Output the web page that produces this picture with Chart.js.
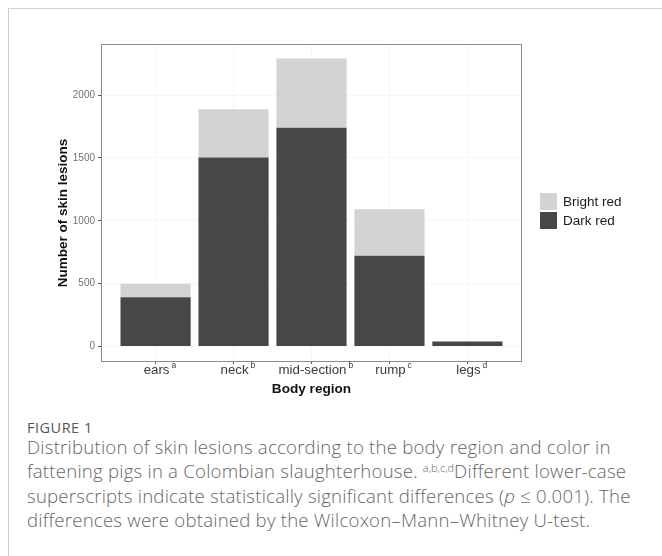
<!DOCTYPE html>
<html>
<head>
<meta charset="utf-8">
<script src="https://cdn.jsdelivr.net/npm/chart.js@4/dist/chart.umd.min.js"></script>
<style>
  html, body { margin: 0; padding: 0; background: #fff; }
  #wrap { position: relative; width: 662px; height: 556px; overflow: hidden; }
  #card { position: absolute; left: 8px; top: 8px; right: -2px; bottom: -2px;
          border-left: 1px solid #cfcfcf; border-top: 1px solid #cfcfcf; }
  #chart { position: absolute; left: 0; top: 0; }
  .leg { position: absolute; font-family: "Liberation Sans", Arial, sans-serif; font-size: 13.5px; color: #1a1a1a; }
  .key { position: absolute; width: 17px; height: 17px; }
  .cap { position: absolute; left: 27px; white-space: nowrap; font-family: "Open Sans", Lato, sans-serif;
         color: #666; font-size: 18.6px; font-weight: 300; letter-spacing: 0.22px; }
  .cap sup { font-size: 11px; vertical-align: 0; position: relative; top: -6px; letter-spacing: 0; }
  #fig { position: absolute; left: 27px; top: 418px; font-family: "Open Sans", Lato, sans-serif;
         font-size: 14.5px; color: #555; letter-spacing: 0.5px; }
</style>
</head>
<body>
<div id="wrap">
  <div id="card"></div>
  <canvas id="chart" width="662" height="410"></canvas>
  <div id="legend"></div>
  <div id="fig">FIGURE 1</div>
  <div class="cap" style="top:434px">Distribution of skin lesions according to the body region and color in</div>
  <div class="cap" style="top:458px">fattening pigs in a Colombian slaughterhouse. <sup>a,b,c,d</sup>Different lower-case</div>
  <div class="cap" style="top:483px">superscripts indicate statistically significant differences (<i>p</i> ≤ 0.001). The</div>
  <div class="cap" style="top:507px">differences were obtained by the Wilcoxon–Mann–Whitney U-test.</div>
</div>
<script>
const categories = ["ears", "neck", "mid-section", "rump", "legs"];
const superscripts = ["a", "b", "b", "c", "d"];
const darkRed = [393, 1503, 1740, 723, 40];
const brightRed = [107, 385, 552, 369, 2];
const yTicks = [0, 500, 1000, 1500, 2000];
const seriesNames = ["Bright red", "Dark red"];
const yTitle = "Number of skin lesions";
const xTitle = "Body region";
const colors = { "Bright red": "#d3d3d3", "Dark red": "#474747" };

const totalMax = Math.max(...darkRed.map((v, i) => v + brightRed[i]));
const yMin = -0.05 * totalMax, yMax = totalMax * 1.05;

// HTML legend
const legend = document.getElementById('legend');
seriesNames.forEach((name, i) => {
  const k = document.createElement('div');
  k.className = 'key';
  k.style.left = '540px'; k.style.top = (193 + i * 19) + 'px';
  k.style.background = colors[name];
  legend.appendChild(k);
  const t = document.createElement('div');
  t.className = 'leg';
  t.style.left = '563px'; t.style.top = (193 + i * 19) + 'px';
  t.style.lineHeight = '17px';
  t.textContent = name;
  legend.appendChild(t);
});

const panelPlugin = {
  id: 'panel',
  afterDatasetsDraw(chart) {
    const { ctx, chartArea: a } = chart;
    ctx.save();
    ctx.strokeStyle = '#8c8c8c';
    ctx.lineWidth = 1;
    ctx.strokeRect(a.left + 0.5, a.top + 0.5, a.right - a.left - 1, a.bottom - a.top);
    ctx.restore();
  },
  afterDraw(chart) {
    const { ctx } = chart;
    const xs = chart.scales.x;
    ctx.save();
    ctx.fillStyle = '#3a3a3a';
    ctx.textBaseline = 'alphabetic';
    categories.forEach((c, i) => {
      const x = xs.getPixelForValue(i);
      ctx.font = '13.3px "Liberation Sans", Arial, sans-serif';
      const w = ctx.measureText(c).width;
      ctx.textAlign = 'center';
      ctx.fillText(c, x + 1, 374);
      ctx.font = '8.5px "Liberation Sans", Arial, sans-serif';
      ctx.textAlign = 'left';
      ctx.fillText(superscripts[i], x + 1 + w / 2 + 2, 368);
    });
    // y axis title
    ctx.translate(63, 213);
    ctx.rotate(-Math.PI / 2);
    ctx.fillStyle = '#111';
    ctx.font = 'bold 13.5px "Liberation Sans", Arial, sans-serif';
    ctx.textAlign = 'center';
    ctx.textBaseline = 'middle';
    ctx.fillText(yTitle, 0, 0);
    ctx.restore();
  }
};

new Chart(document.getElementById('chart'), {
  type: 'bar',
  data: {
    datasets: [
      { label: 'Dark red', data: darkRed.map((v, i) => ({ x: i, y: v })), backgroundColor: colors['Dark red'],
        borderWidth: 0, barPercentage: 0.9, categoryPercentage: 1.0, stack: 's' },
      { label: 'Bright red', data: brightRed.map((v, i) => ({ x: i, y: v })), backgroundColor: colors['Bright red'],
        borderWidth: 0, barPercentage: 0.9, categoryPercentage: 1.0, stack: 's' }
    ]
  },
  options: {
    responsive: false,
    animation: false,
    devicePixelRatio: 1,
    layout: { padding: { left: 0, top: 44, right: 140, bottom: 0 } },
    plugins: { legend: { display: false }, tooltip: { enabled: false } },
    scales: {
      x: {
        type: 'linear', min: -0.7, max: 4.7, stacked: true, offset: false,
        afterBuildTicks(s) { s.ticks = categories.map((c, i) => ({ value: i })); },
        afterFit(s) { s.height = 49; },
        ticks: { display: false },
        grid: { offset: false, color: '#f6f6f6', tickColor: '#555', tickLength: 3, drawTicks: true },
        border: { display: false },
        title: { display: true, text: xTitle, color: '#111',
                 font: { family: '"Liberation Sans", Arial, sans-serif', size: 13.6, weight: 'bold' },
                 padding: { top: 0, bottom: 13 } }
      },
      y: {
        type: 'linear', min: yMin, max: yMax, stacked: true,
        afterBuildTicks(s) { s.ticks = yTicks.map(v => ({ value: v })); },
        afterFit(s) { s.width = 101; },
        ticks: { color: '#707070', padding: 3, font: { family: '"Liberation Sans", Arial, sans-serif', size: 10 },
                 callback: v => String(v) },
        grid: { color: '#f6f6f6', tickColor: '#555', tickLength: 3 },
        border: { display: false },
        title: { display: false }
      }
    }
  },
  plugins: [panelPlugin]
});
</script>
</body>
</html>
